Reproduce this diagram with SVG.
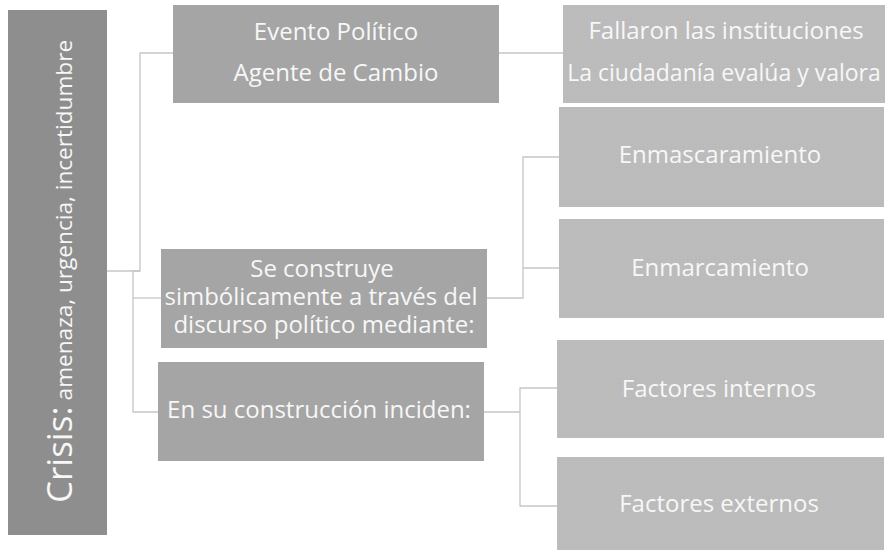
<svg xmlns="http://www.w3.org/2000/svg" width="885" height="552" viewBox="0 0 885 552">
<style>
.dark{fill:#8e8e8e}
.mid{fill:#a5a5a5}
.t{font-family:"Open Sans","Noto Sans",sans-serif;fill:#f7f7f7;font-size:24px;text-anchor:middle}
.conn{fill:none;stroke:#c6c6c6;stroke-width:1.3}
</style>
<defs>
<pattern id="dots" width="4" height="4" patternUnits="userSpaceOnUse">
<rect width="4" height="4" fill="#bbbbbb"/>
<rect x="1" y="1" width="1" height="1" fill="#c2c2c2"/>
</pattern>
</defs>
<rect width="885" height="552" fill="#ffffff"/>
<g id="connectors">
<polyline class="conn" points="107,271 140,271 140,53 173,53"/>
<polyline class="conn" points="140,271 133,271 133,412 158,412"/>
<line class="conn" x1="133" y1="298" x2="161" y2="298"/>
<line class="conn" x1="499" y1="53" x2="563" y2="53"/>
<polyline class="conn" points="487,298 523,298 523,157 559,157"/>
<line class="conn" x1="523" y1="268" x2="559" y2="268"/>
<polyline class="conn" points="484,412 520,412"/>
<polyline class="conn" points="557,388 520,388 520,506 557,506"/>
</g>
<g id="crisis">
<rect class="dark" x="8" y="10" width="99" height="525"/>
<text transform="translate(72,503) rotate(-90)" style="font-family:'Open Sans','Noto Sans',sans-serif;fill:#f7f7f7"><tspan font-size="35">Crisis:</tspan><tspan font-size="22.6" dx="6">amenaza, urgencia, incertidumbre</tspan></text>
</g>
<g id="evento">
<rect class="mid" x="173" y="5" width="326" height="98"/>
<text class="t" x="336" y="40">Evento Político</text>
<text class="t" x="336" y="81">Agente de Cambio</text>
</g>
<g id="fallaron">
<rect fill="url(#dots)" x="563" y="5" width="322" height="98"/>
<text class="t" x="726" y="39">Fallaron las instituciones</text>
<text class="t" x="724" y="81" style="font-size:23px">La ciudadanía evalúa y valora</text>
</g>
<g id="enmascaramiento">
<rect fill="url(#dots)" x="559" y="107" width="325" height="100"/>
<text class="t" x="720" y="163">Enmascaramiento</text>
</g>
<g id="enmarcamiento">
<rect fill="url(#dots)" x="559" y="219" width="325" height="99"/>
<text class="t" x="720" y="276">Enmarcamiento</text>
</g>
<g id="construye">
<rect class="mid" x="161" y="249" width="326" height="99"/>
<text class="t" x="322" y="277">Se construye</text>
<text class="t" x="321" y="305">simbólicamente a través del</text>
<text class="t" x="324" y="333">discurso político mediante:</text>
</g>
<g id="construccion">
<rect class="mid" x="158" y="362" width="326" height="99"/>
<text class="t" x="319" y="418">En su construcción inciden:</text>
</g>
<g id="internos">
<rect fill="url(#dots)" x="557" y="340" width="327" height="98"/>
<text class="t" x="719" y="397">Factores internos</text>
</g>
<g id="externos">
<rect fill="url(#dots)" x="557" y="457" width="327" height="93"/>
<text class="t" x="719" y="512">Factores externos</text>
</g>
</svg>
